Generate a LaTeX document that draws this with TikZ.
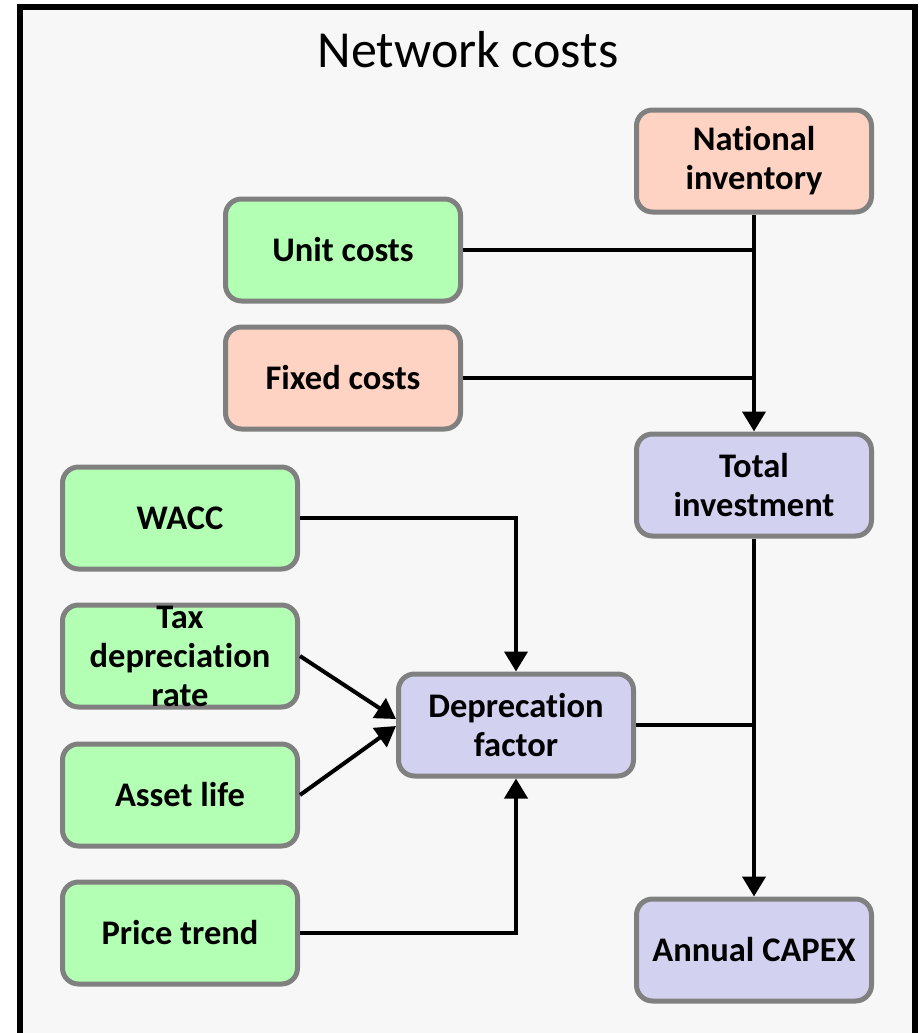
\documentclass[tikz,border=0pt]{standalone}
\usepackage{fontspec}
\setmainfont{Carlito}[Ligatures={NoCommon,NoContextual,NoRequired}]
\usetikzlibrary{arrows.meta}
\definecolor{bgc}{HTML}{F7F7F7}
\definecolor{greenc}{HTML}{B3FFB3}
\definecolor{pinkc}{HTML}{FFD3C3}
\definecolor{bluec}{HTML}{D2D2F0}
\definecolor{edgec}{HTML}{808080}
\tikzset{
  box/.style={draw=edgec, line width=5pt, rounded corners=16pt, minimum width=235pt, minimum height=102pt, inner sep=0pt, align=center, font=\fontsize{34.5}{39}\selectfont\bfseries},
  gbox/.style={box, fill=greenc},
  pbox/.style={box, fill=pinkc},
  bbox/.style={box, fill=bluec},
  conn/.style={line width=4pt, draw=black},
  arr/.style={conn, -{Triangle[length=20pt,width=23pt]}},
}
\begin{document}
\begin{tikzpicture}[x=1pt,y=-1pt]
\useasboundingbox (0,0) rectangle (921,1033);
\fill[white] (0,0) rectangle (921,1033);
\draw[line width=6pt, fill=bgc] (19.5,7.5) rectangle (915,1045);
\node[font=\fontsize{52}{60}\selectfont] (title) at (468,50) {Network costs};
\node[pbox] (ni) at (754,161) {National\\inventory};
\node[gbox] (uc) at (343,250) {Unit costs};
\node[pbox] (fc) at (343,378) {Fixed costs};
\node[bbox] (ti) at (754,485) {Total\\investment};
\node[gbox] (wacc) at (180,518) {WACC};
\node[gbox] (tax) at (180,656) {Tax\\depreciation\\rate};
\node[gbox] (al) at (180,795) {Asset life};
\node[gbox] (pt) at (180,933) {Price trend};
\node[bbox] (df) at (516,725) {Deprecation\\factor};
\node[bbox] (ac) at (754,950) {Annual CAPEX};
\coordinate (j1) at (ti.north |- uc.east);
\coordinate (j2) at (ti.north |- fc.east);
\coordinate (j3) at (ti.south |- df.east);
\draw[arr] (ni.south) -- (ti.north);
\draw[conn] (uc.east) -- (j1);
\draw[conn] (fc.east) -- (j2);
\draw[arr] (ti.south) -- (ac.north);
\draw[conn] (df.east) -- (j3);
\draw[arr] (wacc.east) -| (df.north);
\draw[arr] (pt.east) -| (df.south);
\draw[arr] (tax.east) -- ([yshift=6pt]df.west);
\draw[arr] (al.east) -- ([yshift=-1pt]df.west);
\end{tikzpicture}
\end{document}
